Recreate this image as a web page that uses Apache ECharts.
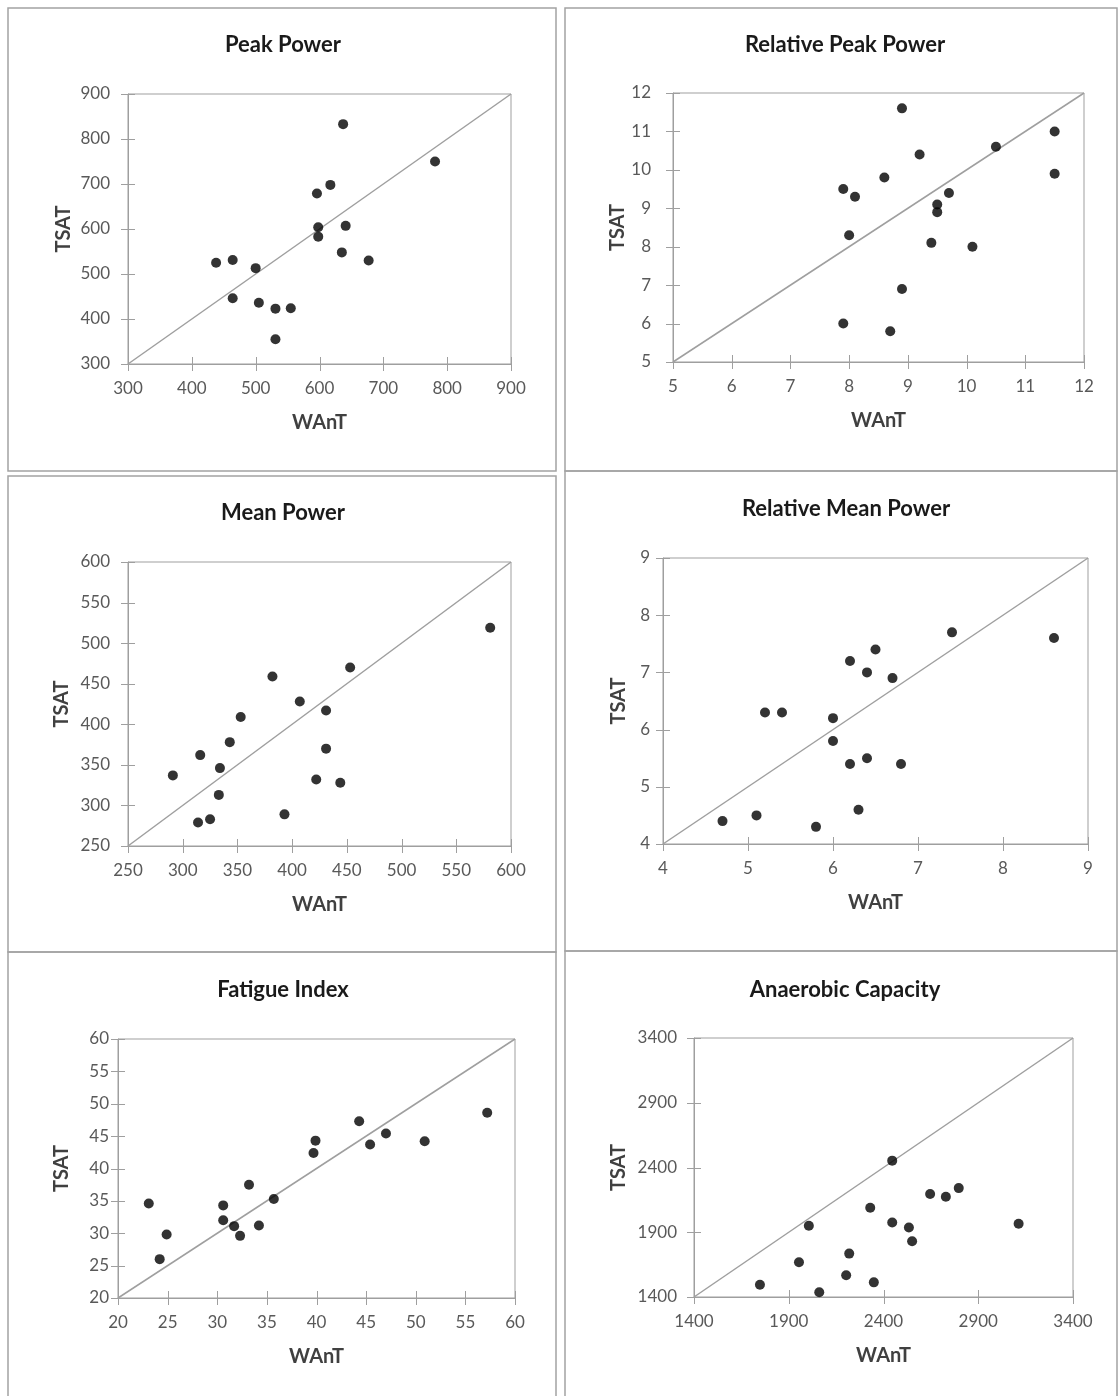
<!DOCTYPE html>
<html><head><meta charset="utf-8">
<script src="https://cdn.jsdelivr.net/npm/echarts@6/dist/echarts.min.js"></script>
<style>html,body{margin:0;padding:0;background:#fff}#c{width:1118px;height:1396px}</style>
</head><body><div id="c"></div>
<script>
// ---- data ----
const panelTitles = ['Peak Power', 'Relative Peak Power', 'Mean Power', 'Relative Mean Power', 'Fatigue Index', 'Anaerobic Capacity'];
const xName = 'WAnT';
const yName = 'TSAT';

const peakWAnT = [438, 464, 500, 464, 505, 531, 555, 531, 596, 617, 637, 598, 598, 641, 635, 677, 781];
const peakTSAT = [525, 531, 513, 446, 436, 423, 424, 355, 679, 698, 833, 604, 583, 607, 548, 530, 750];
const peakTicks = [300, 400, 500, 600, 700, 800, 900];

const relPeakWAnT = [8.9, 11.5, 10.5, 9.2, 8.6, 11.5, 7.9, 8.1, 9.7, 9.5, 9.5, 8.0, 9.4, 10.1, 8.9, 7.9, 8.7];
const relPeakTSAT = [11.6, 11.0, 10.6, 10.4, 9.8, 9.9, 9.5, 9.3, 9.4, 9.1, 8.9, 8.3, 8.1, 8.0, 6.9, 6.0, 5.8];
const relPeakTicks = [5, 6, 7, 8, 9, 10, 11, 12];

const meanWAnT = [581, 453, 382, 407, 431, 353, 343, 316, 334, 291, 431, 422, 444, 333, 393, 325, 314];
const meanTSAT = [519, 470, 459, 428, 417, 409, 378, 362, 346, 337, 370, 332, 328, 313, 289, 283, 279];
const meanTicks = [250, 300, 350, 400, 450, 500, 550, 600];

const relMeanWAnT = [7.4, 8.6, 6.5, 6.2, 6.4, 6.7, 5.2, 5.4, 6.0, 6.0, 6.2, 6.4, 6.8, 6.3, 4.7, 5.1, 5.8];
const relMeanTSAT = [7.7, 7.6, 7.4, 7.2, 7.0, 6.9, 6.3, 6.3, 6.2, 5.8, 5.4, 5.5, 5.4, 4.6, 4.4, 4.5, 4.3];
const relMeanTicks = [4, 5, 6, 7, 8, 9];

const fatigueWAnT = [57.2, 44.3, 47.0, 45.4, 50.9, 39.9, 39.7, 33.2, 35.7, 23.1, 30.6, 30.6, 31.7, 34.2, 32.3, 24.9, 24.2];
const fatigueTSAT = [48.6, 47.3, 45.4, 43.7, 44.2, 44.3, 42.4, 37.5, 35.3, 34.6, 34.3, 32.0, 31.1, 31.2, 29.6, 29.8, 26.0];
const fatigueTicks = [20, 25, 30, 35, 40, 45, 50, 55, 60];

const capWAnT = [2446, 2646, 2729, 2797, 2330, 2446, 2534, 2551, 3113, 2006, 2219, 1954, 2203, 2349, 1748, 2061];
const capTSAT = [2453, 2195, 2174, 2241, 2089, 1975, 1937, 1831, 1965, 1950, 1735, 1668, 1568, 1513, 1495, 1436];
const capTicks = [1400, 1900, 2400, 2900, 3400];

// ---- build ----
const panels = [
  { x: peakWAnT, y: peakTSAT, ticks: peakTicks },
  { x: relPeakWAnT, y: relPeakTSAT, ticks: relPeakTicks },
  { x: meanWAnT, y: meanTSAT, ticks: meanTicks },
  { x: relMeanWAnT, y: relMeanTSAT, ticks: relMeanTicks },
  { x: fatigueWAnT, y: fatigueTSAT, ticks: fatigueTicks },
  { x: capWAnT, y: capTSAT, ticks: capTicks }
];

const layout = [
  { grid: { left: 128, top: 94, width: 383, height: 270 }, title: [283, 45], yGap: 54, yMargin: 18 },
  { grid: { left: 673, top: 93, width: 411, height: 269 }, title: [845, 45], yGap: 43, yMargin: 22 },
  { grid: { left: 128, top: 562, width: 383, height: 284 }, title: [283, 513], yGap: 56, yMargin: 18 },
  { grid: { left: 663, top: 558, width: 425, height: 286 }, title: [846, 509], yGap: 34, yMargin: 13 },
  { grid: { left: 118, top: 1039, width: 397, height: 259 }, title: [283, 990], yGap: 46, yMargin: 9 },
  { grid: { left: 694, top: 1038, width: 379, height: 259 }, title: [845, 990], yGap: 65, yMargin: 17 }
];

const FONT = 'Lato, "Open Sans", sans-serif';
const GRAY = '#9f9f9f';
const LABEL_COLOR = '#595959';
const TICK_HALF = 7;
const fmt = v => String(v);

const grid = [], xAxis = [], yAxis = [], series = [], graphic = [];

panels.forEach((p, i) => {
  const L = layout[i];
  const lo = p.ticks[0], hi = p.ticks[p.ticks.length - 1];
  grid.push(Object.assign({ show: true, borderColor: GRAY, borderWidth: 1, backgroundColor: 'transparent', outerBoundsMode: 'none', containLabel: false }, L.grid));

  const common = { type: 'value', gridIndex: i, min: lo, max: hi, splitLine: { show: false } };
  xAxis.push(Object.assign({}, common, {
    position: 'bottom',
    axisLine: { show: true, lineStyle: { color: GRAY, width: 1 } },
    axisTick: { show: false },
    axisLabel: { customValues: p.ticks, formatter: fmt, margin: 16, color: LABEL_COLOR, fontFamily: FONT, fontSize: 17 },
    name: xName, nameLocation: 'middle', nameGap: 49,
    nameTextStyle: { fontFamily: FONT, fontSize: 20, fontWeight: 'bold', color: '#404040' }
  }));
  yAxis.push(Object.assign({}, common, {
    position: 'left',
    axisLine: { show: true, lineStyle: { color: GRAY, width: 1 } },
    axisTick: { show: false },
    axisLabel: { customValues: p.ticks, formatter: fmt, margin: L.yMargin, color: LABEL_COLOR, fontFamily: FONT, fontSize: 17 },
    name: yName, nameLocation: 'middle', nameGap: L.yGap,
    nameTextStyle: { fontFamily: FONT, fontSize: 20, fontWeight: 'bold', color: '#404040' }
  }));

  // identity line
  series.push({
    type: 'line', xAxisIndex: i, yAxisIndex: i,
    data: [[lo, lo], [hi, hi]], showSymbol: false, silent: true,
    lineStyle: { color: GRAY, width: 1.5 }, z: 1
  });
  // crossing tick marks on both axes, placed through the axis scales
  series.push({
    type: 'custom', xAxisIndex: i, yAxisIndex: i, silent: true, clip: false, z: 2,
    data: p.ticks.map(v => [v]),
    renderItem: (params, api) => {
      const v = api.value(0);
      const px = api.coord([v, lo]);
      const py = api.coord([lo, v]);
      const st = { stroke: GRAY, lineWidth: 1 };
      return {
        type: 'group',
        children: [
          { type: 'line', shape: { x1: Math.round(px[0]) + 0.5, y1: px[1] - TICK_HALF, x2: Math.round(px[0]) + 0.5, y2: px[1] + TICK_HALF }, style: st },
          { type: 'line', shape: { x1: py[0] - TICK_HALF, y1: Math.round(py[1]) + 0.5, x2: py[0] + TICK_HALF, y2: Math.round(py[1]) + 0.5 }, style: st }
        ]
      };
    }
  });
  series.push({
    type: 'scatter', xAxisIndex: i, yAxisIndex: i,
    data: p.x.map((v, k) => [v, p.y[k]]),
    symbol: 'circle', symbolSize: 10,
    itemStyle: { color: '#000' }, z: 3
  });

  graphic.push({
    type: 'text', x: L.title[0], y: L.title[1],
    style: { text: panelTitles[i], font: 'bold 22px ' + FONT, fill: '#1a1a1a', textAlign: 'center', textVerticalAlign: 'middle' }
  });
});

const frames = [
  [8, 8, 548, 463], [565, 8, 552, 463],
  [8, 476, 548, 476], [565, 471, 552, 480],
  [8, 952, 548, 460], [565, 951, 552, 460]
];
frames.forEach(f => {
  graphic.push({ type: 'rect', shape: { x: f[0], y: f[1], width: f[2], height: f[3] }, style: { fill: 'none', stroke: '#a3a3a3', lineWidth: 1.5 }, silent: true, z: -1 });
});

const chart = echarts.init(document.getElementById('c'), null, { renderer: 'canvas' });
chart.setOption({
  animation: false,
  backgroundColor: '#fff',
  grid, xAxis, yAxis, series, graphic
});
</script>
</body></html>
